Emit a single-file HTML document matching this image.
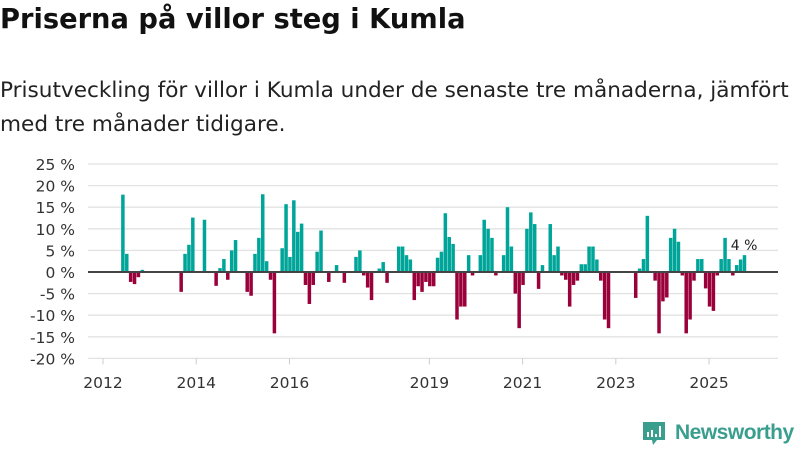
<!DOCTYPE html>
<html><head><meta charset="utf-8"><style>
body{margin:0;width:800px;height:450px;background:#fff;font-family:"DejaVu Sans",sans-serif;overflow:hidden;position:relative}
.t{position:absolute;left:0;top:4px;font-size:27.3px;font-weight:bold;color:#111}
.s{position:absolute;left:0;top:74px;font-size:21.6px;line-height:34px;color:#222}
</style></head><body>
<div class="t">Priserna på villor steg i Kumla</div>
<div class="s">Prisutveckling för villor i Kumla under de senaste tre månaderna, jämfört<br>med tre månader tidigare.</div>
<svg id="c" width="800" height="450" style="position:absolute;left:0;top:0;font-family:'DejaVu Sans',sans-serif"></svg>
<div style="position:absolute;left:643px;top:420px;display:flex;align-items:center;color:#3a9e8f;font-size:21px;font-weight:bold;font-family:'Liberation Sans',sans-serif">
<svg width="24" height="26" style="margin-right:8px"><path d="M0 2h22v18h-8l-4 5-1-5H0z" fill="#3a9e8f"/><rect x="4" y="12" width="2" height="5" fill="#fff"/><rect x="8" y="10" width="2" height="7" fill="#fff"/><rect x="12" y="14" width="2" height="3" fill="#fff"/><rect x="16" y="6" width="2" height="11" fill="#fff"/></svg><span style="letter-spacing:-0.5px">Newsworthy</span></div>
<script>
const startYear = 2012, startMonth = 4; // May 2012
const values = [17.9,4.2,-2.3,-2.8,-1.2,0.5,0,0,0,0,0,0,0,0,0,-4.6,4.2,6.3,12.6,0,0,12.1,0,0,-3.2,0.9,3,-1.8,5,7.4,
0,0,-4.6,-5.5,4.2,7.9,18,2.5,-1.8,-14.2,0,5.5,15.7,3.5,16.6,9.3,11.2,-3,-7.4,-3,4.7,9.6,0,-2.3,0,1.6,0,-2.5,0,0,
3.5,5,-0.8,-3.6,-6.5,0,0.8,2.3,-2.5,0,0,5.9,5.9,3.9,2.9,-6.5,-3.3,-4.6,-2.3,-3.3,-3.3,3.3,4.7,13.6,8.1,6.5,-11,-8,-8,3.9,
-0.8,0,3.9,12.1,10,7.9,-0.8,0,3.9,15,5.9,-5,-13,-3,10,13.8,11.1,-3.9,1.6,0,11.1,3.9,5.9,-0.8,-1.8,-8,-3,-2,1.8,1.8,
5.9,5.9,2.9,-2,-11,-13,0,0,0,0,0,0,-6,0.8,3,13,0,-2,-14.2,-6.8,-5.9,7.9,10,7,-0.8,-14.2,-11,-2,3,3,
-3.8,-8,-9,-0.8,3,7.9,3,-0.8,1.6,2.9,3.9];
const yTicks = [25,20,15,10,5,0,-5,-10,-15,-20];
const xTickYears = [2012,2014,2016,2019,2021,2023,2025];
const lastLabel = "4 %";
const svg = document.getElementById('c'), NS = "http://www.w3.org/2000/svg";
const y = v => 272 - v * 4.32;
const x = m => 103 + m * 3.885; // months since Jan 2012
function mk(t, a, p){const e=document.createElementNS(NS,t);for(const k in a)e.setAttribute(k,a[k]);(p||svg).appendChild(e);return e;}
yTicks.forEach(v=>{
  const g=mk('line',{x1:88,x2:778,y1:y(v),y2:y(v),stroke:'#e2e2e2','stroke-width':1.3});
  
  
  const t=mk('text',{x:75,y:y(v)+6,'text-anchor':'end','font-size':15.5,fill:'#333'});
  t.textContent=v+' %';
  
  
});
xTickYears.forEach(yr=>{
  const xx=x((yr-2012)*12);
  const l=mk('line',{x1:xx,x2:xx,y1:y(-20),y2:y(-20)+6,stroke:'#ccc'});
  
  
  const t=mk('text',{x:xx,y:388,'text-anchor':'middle','font-size':15.5,fill:'#333'});
  t.textContent=yr;
  
  
});
values.forEach((v,i)=>{
  if(v===0)return;
  const m=(startYear-2012)*12+startMonth+i;
  const r=mk('rect',{x:x(m)+2.6,width:3.5,y:Math.min(y(v),y(0)),height:Math.abs(y(v)-y(0)),fill:v>0?'#00a59a':'#9a0039'});
  
  
});
const z=mk('line',{x1:88,x2:778,y1:y(0),y2:y(0),stroke:'#444','stroke-width':2});


const li=values.length-1, lm=startMonth+li;
const lt=mk('text',{x:x(lm)+4,y:y(values[li])-5,'text-anchor':'middle','font-size':14,fill:'#222'});
lt.textContent=lastLabel;


</script>
</body></html>
